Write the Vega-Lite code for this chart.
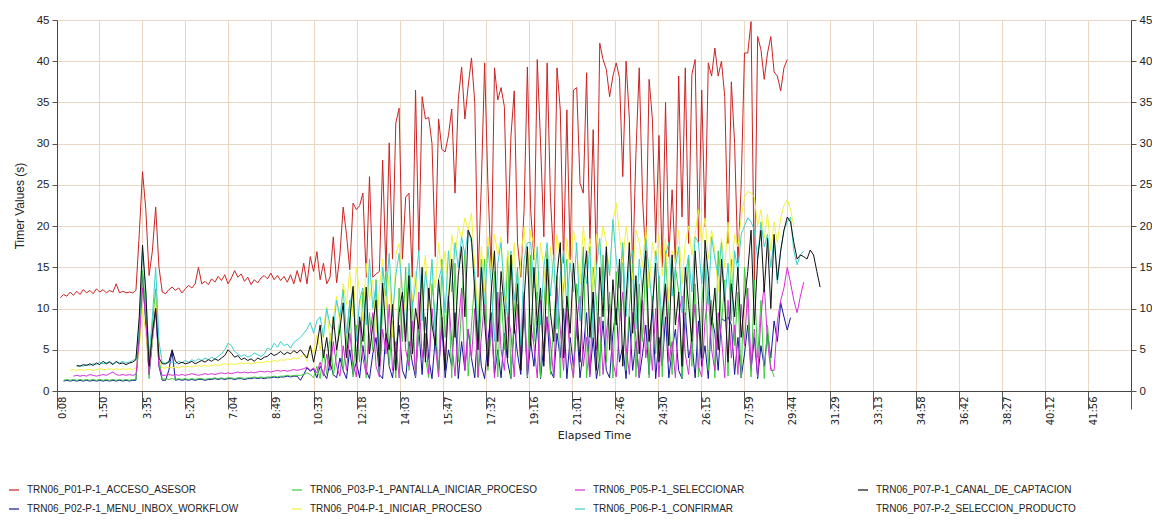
{
"$schema":"https://vega.github.io/schema/vega-lite/v6.json",
"width":1074,"height":371,
"autosize":{"type":"none"},
"padding":{"left":57,"top":20,"right":21,"bottom":134},
"background":"#ffffff",
"config":{"view":{"stroke":null}},
"datasets":{
"names":[
{"k":"a","name":"TRN06_P01-P-1_ACCESO_ASESOR"},
{"k":"b","name":"TRN06_P02-P-1_MENU_INBOX_WORKFLOW"},
{"k":"c","name":"TRN06_P03-P-1_PANTALLA_INICIAR_PROCESO"},
{"k":"d","name":"TRN06_P04-P-1_INICIAR_PROCESO"},
{"k":"e","name":"TRN06_P05-P-1_SELECCIONAR"},
{"k":"f","name":"TRN06_P06-P-1_CONFIRMAR"},
{"k":"g","name":"TRN06_P07-P-1_CANAL_DE_CAPTACION"},
{"k":"h","name":"TRN06_P07-P-2_SELECCION_PRODUCTO"}
],
"timers":[
{"t":16,"a":11.3},
{"t":24,"a":11.7,"b":1.2,"c":1.3},
{"t":32,"a":11.5,"b":1.3,"c":1.4},
{"t":40,"a":12.0,"b":1.2,"c":1.3,"d":2.5},
{"t":48,"a":11.6,"b":1.3,"c":1.4,"d":2.6,"e":1.8},
{"t":56,"a":12.1,"b":1.2,"c":1.3,"d":2.5,"e":1.9,"f":3.0,"g":3.1},
{"t":64,"a":11.7,"b":1.3,"c":1.4,"d":2.6,"e":1.8,"f":3.1,"g":3.0},
{"t":72,"a":12.3,"b":1.2,"c":1.3,"d":2.5,"e":1.9,"f":3.0,"g":3.2},
{"t":80,"a":11.9,"b":1.3,"c":1.4,"d":2.6,"e":1.8,"f":3.2,"g":3.1},
{"t":88,"a":12.2,"b":1.2,"c":1.3,"d":2.6,"e":2.0,"f":3.1,"g":3.3},
{"t":96,"a":11.8,"b":1.3,"c":1.4,"d":2.5,"e":1.9,"f":3.3,"g":3.1},
{"t":104,"a":12.4,"b":1.2,"c":1.3,"d":2.6,"e":1.8,"f":3.2,"g":3.4},
{"t":112,"a":12.0,"b":1.3,"c":1.4,"d":2.7,"e":1.9,"f":3.5,"g":3.2},
{"t":120,"a":12.3,"b":1.2,"c":1.3,"d":2.6,"e":2.0,"f":3.3,"g":3.6},
{"t":128,"a":11.9,"b":1.3,"c":1.4,"d":2.6,"e":1.9,"f":3.4,"g":3.3},
{"t":136,"a":12.2,"b":1.2,"c":1.3,"d":2.7,"e":2.1,"f":3.6,"g":3.5},
{"t":144,"a":12.0,"b":1.3,"c":1.4,"d":2.6,"e":2.3,"f":3.3,"g":3.2},
{"t":152,"a":13.0,"b":1.2,"c":1.3,"d":2.7,"e":2.0,"f":3.5,"g":3.6},
{"t":160,"a":11.9,"b":1.3,"c":1.4,"d":2.6,"e":1.9,"f":3.4,"g":3.3},
{"t":168,"a":12.1,"b":1.2,"c":1.3,"d":2.7,"e":2.0,"f":3.6,"g":3.4},
{"t":176,"a":11.9,"b":1.3,"c":1.4,"d":2.6,"e":1.9,"f":3.4,"g":3.2},
{"t":184,"a":12.0,"b":1.2,"c":1.3,"d":2.7,"e":2.0,"f":3.5,"g":3.4},
{"t":192,"a":11.9,"b":1.3,"c":1.4,"d":2.6,"e":1.9,"f":3.7,"g":3.5},
{"t":200,"a":12.2,"b":1.3,"c":1.4,"d":2.8,"e":2.0,"f":3.9,"g":3.8},
{"t":208,"a":19.0,"b":7.0,"c":6.0,"d":5.0,"e":6.0,"f":8.0,"g":9.0},
{"t":216,"a":26.6,"b":14.4,"c":14.6,"d":10.0,"e":12.5,"f":17.0,"g":17.7},
{"t":224,"a":22.0,"b":8.0,"c":10.0,"d":7.0,"e":9.0,"f":12.0,"g":12.0},
{"t":232,"a":14.0,"b":2.0,"c":1.5,"d":3.0,"e":2.0,"f":4.0,"g":3.0},
{"t":240,"a":17.0,"b":6.0,"c":8.0,"d":6.0,"e":7.0,"f":9.0,"g":7.0},
{"t":248,"a":22.3,"b":10.0,"c":12.4,"d":11.0,"e":10.0,"f":15.0,"g":10.0},
{"t":256,"a":15.0,"b":3.0,"c":4.0,"d":4.0,"e":3.0,"f":6.0,"g":4.0},
{"t":264,"a":12.0,"b":1.3,"c":1.4,"d":2.8,"e":1.9,"f":3.4,"g":3.3},
{"t":272,"a":11.8,"b":1.3,"c":1.5,"d":2.8,"e":1.9,"f":3.4,"g":3.3},
{"t":280,"a":12.3,"b":2.5,"c":1.4,"d":2.9,"e":2.0,"f":3.6,"g":3.5},
{"t":288,"a":12.6,"b":4.8,"c":1.5,"d":2.8,"e":1.9,"f":3.5,"g":5.0},
{"t":296,"a":12.2,"b":1.3,"c":1.4,"d":2.9,"e":2.0,"f":3.3,"g":3.6},
{"t":304,"a":12.5,"b":1.4,"c":1.5,"d":2.8,"e":1.9,"f":3.6,"g":3.3},
{"t":312,"a":11.9,"b":1.3,"c":1.4,"d":3.0,"e":2.0,"f":3.4,"g":3.5},
{"t":320,"a":12.4,"b":1.4,"c":1.5,"d":2.9,"e":1.9,"f":3.7,"g":3.3},
{"t":328,"a":12.8,"b":1.3,"c":1.4,"d":3.0,"e":2.0,"f":3.5,"g":3.4},
{"t":336,"a":12.5,"b":1.4,"c":1.5,"d":2.9,"e":2.1,"f":3.8,"g":3.6},
{"t":344,"a":13.0,"b":1.3,"c":1.4,"d":3.0,"e":2.0,"f":3.6,"g":3.3},
{"t":352,"a":15.0,"b":1.4,"c":1.5,"d":3.1,"e":1.9,"f":3.9,"g":3.5},
{"t":360,"a":13.0,"b":1.4,"c":1.5,"d":3.0,"e":2.0,"f":3.7,"g":3.7},
{"t":368,"a":13.3,"b":1.3,"c":1.4,"d":3.1,"e":2.1,"f":4.0,"g":3.5},
{"t":376,"a":12.9,"b":1.4,"c":1.5,"d":3.0,"e":2.0,"f":3.8,"g":3.8},
{"t":384,"a":13.6,"b":1.4,"c":1.5,"d":3.1,"e":2.1,"f":4.1,"g":3.6},
{"t":392,"a":13.2,"b":1.5,"c":1.6,"d":3.2,"e":2.0,"f":3.9,"g":3.9},
{"t":400,"a":13.9,"b":1.4,"c":1.5,"d":3.1,"e":2.1,"f":4.2,"g":3.7},
{"t":408,"a":13.4,"b":1.5,"c":1.6,"d":3.2,"e":2.2,"f":4.5,"g":4.0},
{"t":416,"a":14.1,"b":1.4,"c":1.5,"d":3.3,"e":2.1,"f":5.0,"g":4.3},
{"t":424,"a":13.0,"b":1.5,"c":1.6,"d":3.2,"e":2.2,"f":5.8,"g":5.0},
{"t":432,"a":13.7,"b":1.5,"c":1.6,"d":3.3,"e":2.1,"f":5.5,"g":4.6},
{"t":440,"a":14.6,"b":1.4,"c":1.5,"d":3.2,"e":2.2,"f":4.8,"g":4.1},
{"t":448,"a":13.8,"b":1.5,"c":1.6,"d":3.3,"e":2.3,"f":4.5,"g":4.3},
{"t":456,"a":14.2,"b":1.5,"c":1.6,"d":3.4,"e":2.2,"f":4.2,"g":3.8},
{"t":464,"a":13.3,"b":1.4,"c":1.5,"d":3.3,"e":2.3,"f":4.4,"g":4.0},
{"t":472,"a":13.8,"b":1.5,"c":1.6,"d":3.4,"e":2.2,"f":4.1,"g":3.7},
{"t":480,"a":12.9,"b":1.5,"c":1.6,"d":3.3,"e":2.3,"f":4.3,"g":3.9},
{"t":488,"a":13.5,"b":1.6,"c":1.7,"d":3.4,"e":2.2,"f":4.6,"g":3.6},
{"t":496,"a":13.1,"b":1.5,"c":1.6,"d":3.5,"e":2.3,"f":4.4,"g":4.0},
{"t":504,"a":13.7,"b":1.6,"c":1.7,"d":3.4,"e":2.4,"f":4.2,"g":3.8},
{"t":512,"a":14.0,"b":1.5,"c":1.6,"d":3.5,"e":2.3,"f":4.5,"g":4.1},
{"t":520,"a":13.6,"b":1.6,"c":1.7,"d":3.6,"e":2.4,"f":5.2,"g":4.2},
{"t":528,"a":14.3,"b":1.6,"c":1.7,"d":3.5,"e":2.3,"f":5.0,"g":4.6},
{"t":536,"a":13.5,"b":1.7,"c":1.8,"d":3.7,"e":2.4,"f":5.8,"g":4.3},
{"t":544,"a":14.0,"b":1.6,"c":1.7,"d":3.6,"e":2.5,"f":5.3,"g":4.5},
{"t":552,"a":13.4,"b":1.7,"c":1.8,"d":3.8,"e":2.4,"f":6.0,"g":4.8},
{"t":560,"a":13.9,"b":1.7,"c":1.8,"d":3.7,"e":2.5,"f":5.5,"g":4.4},
{"t":568,"a":13.2,"b":1.8,"c":1.9,"d":3.9,"e":2.4,"f":5.7,"g":4.7},
{"t":576,"a":14.1,"b":1.7,"c":1.8,"d":3.8,"e":2.5,"f":5.2,"g":4.5},
{"t":584,"a":13.0,"b":1.8,"c":1.9,"d":4.0,"e":2.6,"f":5.9,"g":4.9},
{"t":592,"a":14.6,"b":1.8,"c":1.9,"d":3.9,"e":2.5,"f":6.2,"g":4.6},
{"t":600,"a":13.2,"b":1.3,"c":1.9,"d":4.1,"e":2.6,"f":6.5,"g":5.0},
{"t":608,"a":15.5,"b":2.0,"c":2.0,"d":4.5,"e":2.7,"f":7.0,"g":4.5},
{"t":616,"a":13.0,"b":2.8,"c":2.2,"d":3.6,"e":2.9,"f":7.5,"g":4.0},
{"t":624,"a":16.3,"b":2.4,"c":2.0,"d":5.5,"e":2.5,"f":8.3,"g":5.5},
{"t":632,"a":14.5,"b":2.7,"c":1.6,"d":4.5,"e":2.8,"f":7.0,"g":3.5},
{"t":640,"a":16.9,"b":1.6,"c":3.0,"d":6.8,"e":2.2,"f":8.5,"g":5.5},
{"t":648,"a":13.5,"b":3.0,"c":1.5,"d":5.0,"e":3.5,"f":9.0,"g":8.0},
{"t":656,"a":15.5,"b":2.2,"c":5.0,"d":7.5,"e":1.8,"f":6.5,"g":4.0},
{"t":664,"a":13.0,"b":1.5,"c":2.0,"d":10.2,"e":4.5,"f":10.0,"g":6.5},
{"t":672,"a":13.8,"b":3.5,"c":7.0,"d":6.0,"e":2.5,"f":8.0,"g":3.0},
{"t":680,"a":18.7,"b":2.0,"c":1.8,"d":9.0,"e":6.0,"f":7.5,"g":9.0},
{"t":688,"a":13.1,"b":1.6,"c":4.5,"d":11.5,"e":3.0,"f":11.0,"g":5.0},
{"t":696,"a":16.5,"b":4.0,"c":9.0,"d":8.0,"e":1.8,"f":9.0,"g":7.5},
{"t":704,"a":22.3,"b":2.5,"c":2.5,"d":13.0,"e":5.5,"f":12.3,"g":10.7},
{"t":712,"a":19.0,"b":1.5,"c":6.0,"d":10.5,"e":2.5,"f":7.0,"g":4.0},
{"t":720,"a":14.7,"b":5.0,"c":11.0,"d":14.5,"e":7.0,"f":10.5,"g":8.5},
{"t":728,"a":22.8,"b":2.0,"c":1.7,"d":9.0,"e":3.5,"f":12.3,"g":12.7},
{"t":736,"a":22.0,"b":3.5,"c":8.0,"d":15.0,"e":1.7,"f":6.0,"g":3.5},
{"t":744,"a":22.5,"b":1.6,"c":3.5,"d":12.0,"e":8.5,"f":11.0,"g":9.0},
{"t":752,"a":24.0,"b":5.5,"c":12.0,"d":8.5,"e":4.0,"f":12.5,"g":6.0},
{"t":760,"a":13.8,"b":2.5,"c":1.6,"d":15.5,"e":2.0,"f":8.0,"g":12.6},
{"t":768,"a":26.0,"b":1.5,"c":9.5,"d":11.0,"e":6.5,"f":16.0,"g":4.5},
{"t":776,"a":13.8,"b":4.5,"c":5.0,"d":13.5,"e":9.5,"f":10.0,"g":8.0},
{"t":784,"a":14.2,"b":6.5,"c":13.5,"d":7.0,"e":3.0,"f":13.0,"g":11.0},
{"t":792,"a":14.5,"b":2.0,"c":2.0,"d":12.5,"e":1.7,"f":5.0,"g":3.0},
{"t":800,"a":28.0,"b":1.5,"c":10.0,"d":16.0,"e":7.5,"f":15.0,"g":13.1},
{"t":808,"a":14.5,"b":7.0,"c":14.5,"d":10.0,"e":4.5,"f":11.5,"g":7.0},
{"t":816,"a":30.1,"b":3.0,"c":3.0,"d":14.0,"e":10.5,"f":16.7,"g":5.0},
{"t":824,"a":16.0,"b":1.6,"c":8.5,"d":6.5,"e":2.5,"f":9.0,"g":10.5},
{"t":832,"a":32.5,"b":5.0,"c":1.6,"d":16.5,"e":6.0,"f":14.0,"g":2.5},
{"t":840,"a":34.3,"b":8.0,"c":12.5,"d":17.9,"e":1.6,"f":16.7,"g":9.5},
{"t":848,"a":16.0,"b":2.5,"c":6.0,"d":12.0,"e":11.0,"f":12.0,"g":12.0},
{"t":856,"a":23.5,"b":1.5,"c":15.0,"d":9.0,"e":5.0,"f":7.0,"g":6.0},
{"t":864,"a":24.0,"b":6.0,"c":2.5,"d":15.0,"e":3.0,"f":15.5,"g":14.0},
{"t":872,"a":13.8,"b":3.5,"c":11.0,"d":11.0,"e":8.5,"f":10.0,"g":4.5},
{"t":880,"a":36.5,"b":1.6,"c":1.8,"d":14.5,"e":1.7,"f":13.0,"g":10.0},
{"t":888,"a":17.0,"b":7.5,"c":7.5,"d":7.5,"e":12.0,"f":17.0,"g":7.5},
{"t":896,"a":35.7,"b":2.0,"c":14.0,"d":13.0,"e":4.0,"f":8.5,"g":15.0},
{"t":904,"a":33.0,"b":9.0,"c":4.0,"d":16.5,"e":7.0,"f":14.5,"g":3.5},
{"t":912,"a":33.2,"b":4.0,"c":1.6,"d":10.0,"e":2.0,"f":11.0,"g":12.5},
{"t":920,"a":30.0,"b":1.5,"c":13.0,"d":15.5,"e":10.0,"f":16.0,"g":8.0},
{"t":928,"a":16.3,"b":6.5,"c":9.0,"d":12.5,"e":5.5,"f":6.5,"g":5.5},
{"t":936,"a":33.0,"b":2.5,"c":1.7,"d":18.0,"e":1.7,"f":13.5,"g":13.5},
{"t":944,"a":29.3,"b":8.0,"c":16.0,"d":14.0,"e":9.0,"f":15.0,"g":9.0},
{"t":952,"a":29.0,"b":1.6,"c":6.5,"d":17.0,"e":3.5,"f":9.5,"g":2.5},
{"t":960,"a":31.0,"b":5.0,"c":12.0,"d":11.5,"e":11.5,"f":17.0,"g":11.0},
{"t":968,"a":34.2,"b":3.0,"c":1.6,"d":19.0,"e":6.0,"f":12.0,"g":16.0},
{"t":976,"a":24.0,"b":9.5,"c":15.5,"d":16.0,"e":1.8,"f":18.0,"g":6.5},
{"t":984,"a":35.4,"b":1.5,"c":3.5,"d":20.0,"e":8.0,"f":15.0,"g":14.0},
{"t":992,"a":39.3,"b":6.0,"c":10.0,"d":18.5,"e":12.5,"f":18.7,"g":17.5},
{"t":1000,"a":33.0,"b":2.5,"c":17.0,"d":21.0,"e":2.5,"f":16.5,"g":9.0},
{"t":1008,"a":37.0,"b":7.5,"c":1.8,"d":19.5,"e":7.5,"f":19.5,"g":19.5},
{"t":1016,"a":40.4,"b":4.0,"c":8.0,"d":21.6,"e":4.0,"f":18.0,"g":18.5},
{"t":1024,"a":35.0,"b":1.6,"c":13.5,"d":15.0,"e":10.0,"f":14.0,"g":12.0},
{"t":1032,"a":13.8,"b":8.5,"c":1.6,"d":9.0,"e":1.7,"f":7.0,"g":5.0},
{"t":1040,"a":25.0,"b":3.0,"c":11.0,"d":17.5,"e":6.5,"f":16.0,"g":15.0},
{"t":1048,"a":39.8,"b":1.5,"c":16.0,"d":12.0,"e":11.0,"f":10.5,"g":8.5},
{"t":1056,"a":25.0,"b":6.0,"c":2.5,"d":18.7,"e":3.0,"f":17.5,"g":3.0},
{"t":1064,"a":14.5,"b":9.5,"c":7.0,"d":14.0,"e":8.5,"f":13.0,"g":12.0},
{"t":1072,"a":39.2,"b":2.0,"c":14.5,"d":19.0,"e":1.6,"f":6.0,"g":17.0},
{"t":1080,"a":35.3,"b":5.0,"c":1.7,"d":16.5,"e":12.0,"f":15.5,"g":6.0},
{"t":1088,"a":36.8,"b":1.6,"c":12.0,"d":18.7,"e":5.0,"f":18.0,"g":14.5},
{"t":1096,"a":34.5,"b":7.0,"c":5.0,"d":11.0,"e":2.5,"f":12.0,"g":10.0},
{"t":1104,"a":17.9,"b":3.5,"c":17.0,"d":17.0,"e":9.5,"f":9.0,"g":4.0},
{"t":1112,"a":30.9,"b":1.5,"c":1.6,"d":13.5,"e":7.0,"f":17.0,"g":16.5},
{"t":1120,"a":36.4,"b":8.0,"c":9.5,"d":18.0,"e":1.7,"f":11.0,"g":7.0},
{"t":1128,"a":18.0,"b":4.5,"c":15.0,"d":8.5,"e":10.5,"f":14.5,"g":13.0},
{"t":1136,"a":13.8,"b":2.0,"c":3.0,"d":16.0,"e":4.5,"f":5.5,"g":2.5},
{"t":1144,"a":22.0,"b":10.0,"c":11.5,"d":19.9,"e":12.0,"f":16.0,"g":11.0},
{"t":1152,"a":39.3,"b":1.6,"c":1.7,"d":14.0,"e":2.0,"f":18.0,"g":17.5},
{"t":1160,"a":22.0,"b":6.0,"c":16.5,"d":19.5,"e":8.0,"f":18.0,"g":5.5},
{"t":1168,"a":15.9,"b":3.0,"c":6.0,"d":17.5,"e":5.5,"f":12.5,"g":15.0},
{"t":1176,"a":40.2,"b":8.5,"c":13.0,"d":12.0,"e":1.6,"f":17.5,"g":8.0},
{"t":1184,"a":30.1,"b":1.5,"c":1.6,"d":18.0,"e":11.0,"f":8.0,"g":12.5},
{"t":1192,"a":18.7,"b":5.5,"c":10.0,"d":15.0,"e":3.5,"f":15.0,"g":3.0},
{"t":1200,"a":39.8,"b":9.0,"c":17.0,"d":10.5,"e":9.0,"f":18.0,"g":16.0},
{"t":1208,"a":23.5,"b":2.5,"c":2.0,"d":17.5,"e":6.0,"f":11.5,"g":9.5},
{"t":1216,"a":15.9,"b":1.6,"c":8.0,"d":13.0,"e":1.7,"f":16.5,"g":6.0},
{"t":1224,"a":39.2,"b":7.0,"c":14.0,"d":19.0,"e":12.5,"f":7.5,"g":14.0},
{"t":1232,"a":34.1,"b":4.0,"c":1.6,"d":16.0,"e":7.5,"f":14.0,"g":18.0},
{"t":1240,"a":15.5,"b":10.0,"c":12.5,"d":11.0,"e":2.5,"f":17.0,"g":4.0},
{"t":1248,"a":34.1,"b":1.5,"c":16.0,"d":18.5,"e":10.0,"f":10.0,"g":11.5},
{"t":1256,"a":15.9,"b":6.5,"c":4.0,"d":14.5,"e":4.0,"f":15.5,"g":7.0},
{"t":1264,"a":36.5,"b":3.0,"c":1.7,"d":19.5,"e":1.6,"f":12.0,"g":15.5},
{"t":1272,"a":36.8,"b":8.0,"c":13.0,"d":17.0,"e":8.5,"f":18.0,"g":10.0},
{"t":1280,"a":25.2,"b":1.6,"c":9.0,"d":13.0,"e":11.5,"f":8.5,"g":3.5},
{"t":1288,"a":24.0,"b":5.0,"c":17.5,"d":20.0,"e":3.0,"f":16.0,"g":13.0},
{"t":1296,"a":38.6,"b":9.5,"c":1.6,"d":15.5,"e":6.5,"f":13.0,"g":17.0},
{"t":1304,"a":17.9,"b":2.0,"c":6.5,"d":18.5,"e":1.7,"f":17.5,"g":6.5},
{"t":1312,"a":31.7,"b":6.5,"c":15.0,"d":12.0,"e":12.0,"f":6.5,"g":12.0},
{"t":1320,"a":14.7,"b":1.5,"c":11.0,"d":19.0,"e":5.0,"f":15.0,"g":2.5},
{"t":1328,"a":42.2,"b":4.0,"c":1.8,"d":16.5,"e":9.0,"f":18.5,"g":15.0},
{"t":1336,"a":40.2,"b":8.5,"c":16.5,"d":20.0,"e":2.0,"f":11.0,"g":9.0},
{"t":1344,"a":39.0,"b":2.5,"c":3.5,"d":18.0,"e":7.0,"f":17.0,"g":17.5},
{"t":1352,"a":35.7,"b":1.6,"c":12.0,"d":14.0,"e":10.5,"f":14.0,"g":5.0},
{"t":1360,"a":38.2,"b":7.0,"c":1.6,"d":20.5,"e":3.5,"f":20.8,"g":13.5},
{"t":1368,"a":39.8,"b":10.0,"c":14.5,"d":22.8,"e":1.7,"f":16.0,"g":8.0},
{"t":1376,"a":38.0,"b":3.5,"c":8.5,"d":19.0,"e":8.0,"f":12.5,"g":16.0},
{"t":1384,"a":26.0,"b":5.5,"c":17.0,"d":15.5,"e":12.0,"f":18.0,"g":3.0},
{"t":1392,"a":40.0,"b":1.5,"c":2.5,"d":20.0,"e":5.5,"f":9.0,"g":11.0},
{"t":1400,"a":33.0,"b":9.0,"c":10.0,"d":17.0,"e":2.0,"f":15.5,"g":18.0},
{"t":1408,"a":14.3,"b":2.5,"c":15.5,"d":13.5,"e":9.5,"f":17.0,"g":7.0},
{"t":1416,"a":28.9,"b":6.0,"c":1.7,"d":19.5,"e":6.5,"f":7.5,"g":14.0},
{"t":1424,"a":39.2,"b":1.6,"c":13.0,"d":18.0,"e":1.6,"f":16.0,"g":4.5},
{"t":1432,"a":23.5,"b":4.5,"c":6.0,"d":15.0,"e":11.0,"f":12.0,"g":12.5},
{"t":1440,"a":15.9,"b":8.0,"c":16.0,"d":20.0,"e":4.0,"f":18.5,"g":17.0},
{"t":1448,"a":37.8,"b":2.0,"c":1.6,"d":12.5,"e":7.5,"f":14.5,"g":6.0},
{"t":1456,"a":33.0,"b":10.5,"c":11.5,"d":18.0,"e":2.5,"f":10.0,"g":10.0},
{"t":1464,"a":18.0,"b":1.5,"c":4.5,"d":16.0,"e":10.0,"f":17.0,"g":15.5},
{"t":1472,"a":31.0,"b":6.5,"c":14.0,"d":19.0,"e":1.7,"f":13.5,"g":3.5},
{"t":1480,"a":15.0,"b":3.0,"c":1.7,"d":14.0,"e":8.5,"f":8.0,"g":9.0},
{"t":1488,"a":35.0,"b":9.0,"c":17.0,"d":18.5,"e":12.5,"f":16.5,"g":13.0},
{"t":1496,"a":16.3,"b":1.6,"c":9.0,"d":11.0,"e":3.5,"f":18.0,"g":5.5},
{"t":1504,"a":24.4,"b":5.0,"c":2.0,"d":17.0,"e":6.0,"f":11.5,"g":16.5},
{"t":1512,"a":15.5,"b":7.5,"c":15.0,"d":15.5,"e":1.6,"f":15.0,"g":8.0},
{"t":1520,"a":38.2,"b":2.5,"c":12.0,"d":19.5,"e":9.0,"f":17.5,"g":12.0},
{"t":1528,"a":21.1,"b":1.5,"c":1.6,"d":13.0,"e":11.5,"f":9.5,"g":3.0},
{"t":1536,"a":39.2,"b":9.5,"c":7.5,"d":18.0,"e":4.5,"f":14.0,"g":15.0},
{"t":1544,"a":17.9,"b":4.0,"c":16.5,"d":20.0,"e":2.0,"f":16.5,"g":10.5},
{"t":1552,"a":38.4,"b":6.0,"c":3.0,"d":16.5,"e":7.0,"f":12.0,"g":6.0},
{"t":1560,"a":40.2,"b":1.6,"c":13.0,"d":19.0,"e":10.5,"f":18.7,"g":17.0},
{"t":1568,"a":18.0,"b":8.5,"c":1.7,"d":22.0,"e":3.0,"f":18.0,"g":11.0},
{"t":1576,"a":36.5,"b":3.0,"c":10.5,"d":18.0,"e":1.7,"f":13.0,"g":4.0},
{"t":1584,"a":19.9,"b":5.5,"c":15.5,"d":21.0,"e":8.5,"f":17.0,"g":18.3},
{"t":1592,"a":39.8,"b":1.5,"c":2.5,"d":16.0,"e":12.0,"f":10.5,"g":14.0},
{"t":1600,"a":38.2,"b":9.0,"c":11.0,"d":19.5,"e":5.0,"f":18.7,"g":8.0},
{"t":1608,"a":41.6,"b":7.0,"c":1.6,"d":17.0,"e":2.5,"f":16.0,"g":12.5},
{"t":1616,"a":38.2,"b":2.5,"c":17.0,"d":12.0,"e":9.5,"f":14.0,"g":5.0},
{"t":1624,"a":40.0,"b":8.8,"c":8.0,"d":18.5,"e":6.5,"f":18.0,"g":16.0},
{"t":1632,"a":35.7,"b":8.5,"c":13.5,"d":15.0,"e":1.6,"f":11.0,"g":10.7},
{"t":1640,"a":17.9,"b":9.0,"c":1.8,"d":20.5,"e":11.0,"f":15.5,"g":3.5},
{"t":1648,"a":37.5,"b":8.0,"c":16.0,"d":13.5,"e":4.0,"f":8.5,"g":13.0},
{"t":1656,"a":30.0,"b":2.0,"c":5.5,"d":19.0,"e":8.0,"f":17.0,"g":9.0},
{"t":1664,"a":15.5,"b":6.5,"c":12.0,"d":17.5,"e":2.0,"f":14.5,"g":15.0},
{"t":1672,"a":25.0,"b":1.6,"c":1.6,"d":21.0,"e":10.5,"f":19.0,"g":6.5},
{"t":1680,"a":41.0,"b":4.5,"c":15.0,"d":23.5,"e":5.5,"f":20.0,"g":11.0},
{"t":1688,"a":41.0,"b":8.0,"c":10.0,"d":24.2,"e":12.5,"f":21.0,"g":14.5},
{"t":1696,"a":44.8,"b":2.5,"c":1.7,"d":24.0,"e":3.0,"f":20.5,"g":19.5},
{"t":1704,"a":13.0,"b":6.5,"c":13.5,"d":23.5,"e":7.5,"f":19.5,"g":8.0},
{"t":1712,"a":43.0,"b":1.5,"c":4.0,"d":20.0,"e":1.7,"f":16.0,"g":16.0},
{"t":1720,"a":41.4,"b":5.5,"c":11.0,"d":22.0,"e":9.0,"f":20.5,"g":19.5},
{"t":1728,"a":37.8,"b":3.0,"c":1.5,"d":18.5,"e":13.0,"f":17.5,"g":12.0},
{"t":1736,"a":41.0,"b":7.0,"c":8.0,"d":21.5,"e":6.0,"f":19.0,"g":18.5},
{"t":1744,"a":43.0,"b":4.0,"c":3.0,"d":17.0,"e":2.5,"f":15.0,"g":10.0},
{"t":1752,"a":38.7,"b":8.5,"c":1.7,"d":20.5,"e":2.5,"f":18.5,"g":19.0},
{"t":1760,"a":38.2,"b":6.0,"d":18.0,"e":8.5,"f":13.0,"g":13.5},
{"t":1768,"a":36.4,"b":10.7,"d":21.0,"e":11.0,"f":17.0,"g":17.0},
{"t":1776,"a":39.2,"b":9.0,"d":22.5,"e":12.5,"f":19.5,"g":19.5},
{"t":1784,"a":40.2,"b":7.4,"d":23.2,"e":15.0,"f":20.5,"g":21.1},
{"t":1792,"b":8.9,"d":22.0,"e":13.1,"f":21.1,"g":20.5},
{"t":1800,"d":20.0,"e":11.0,"f":17.0,"g":18.0},
{"t":1808,"e":9.5,"f":15.3,"g":16.0},
{"t":1816,"e":11.5,"f":16.5,"g":16.5},
{"t":1824,"e":13.2,"f":17.0,"g":16.3},
{"t":1832,"g":16.0},
{"t":1840,"g":17.1},
{"t":1848,"g":16.5},
{"t":1856,"g":14.5},
{"t":1864,"g":12.6}
]
},
"layer":[
{
"data":{"name":"timers"},
"transform":[
{"fold":["a","b","c","d","e","f","g"],"as":["k","v"]},
{"filter":"isValid(datum.v)"},
{"lookup":"k","from":{"data":{"name":"names"},"key":"k","fields":["name"]}}
],
"mark":{"type":"line","strokeWidth":1},
"encoding":{
"x":{"field":"t","type":"quantitative","scale":{"domain":[8,2620],"nice":false,"zero":false},
"axis":{"title":"Elapsed Time","values":[8,110,215,320,424,529,633,738,843,947,1052,1156,1261,1366,1470,1575,1679,1784,1889,1993,2098,2202,2307,2412,2516,2620],
"labelExpr":"datum.value > 2600 ? '' : floor(datum.value / 60) + ':' + (datum.value % 60 < 10 ? '0' : '') + (datum.value % 60)",
"labelAngle":270,"labelAlign":"right","labelBaseline":"top","labelPadding":-13,"labelOverlap":false,"labelFlush":false,
"labelFont":"DejaVu Sans","labelFontSize":10,"labelColor":"#222222",
"tickSize":18,"tickColor":"#555555","domainColor":"#444444","grid":true,"gridColor":"#ead7c3",
"titleFont":"DejaVu Sans","titleFontSize":11,"titleFontWeight":"normal","titleColor":"#222222","titlePadding":5}},
"y":{"field":"v","type":"quantitative","scale":{"domain":[0,45],"nice":false},
"axis":{"title":"Timer Values (s)","values":[0,5,10,15,20,25,30,35,40,45],"grid":true,"gridColor":"#ead7c3",
"tickSize":5,"tickColor":"#555555","domainColor":"#444444","labelFont":"Liberation Sans","labelFontSize":11.5,"labelColor":"#222222","labelPadding":3,
"titleFont":"Liberation Sans","titleFontSize":12,"titleFontWeight":"normal","titleColor":"#222222","titlePadding":10}},
"color":{"field":"name","type":"nominal",
"scale":{"domain":["TRN06_P01-P-1_ACCESO_ASESOR","TRN06_P03-P-1_PANTALLA_INICIAR_PROCESO","TRN06_P05-P-1_SELECCIONAR","TRN06_P07-P-1_CANAL_DE_CAPTACION","TRN06_P02-P-1_MENU_INBOX_WORKFLOW","TRN06_P04-P-1_INICIAR_PROCESO","TRN06_P06-P-1_CONFIRMAR","TRN06_P07-P-2_SELECCION_PRODUCTO"],
"range":["#cc2222","#3ccc3c","#d42fd4","#111111","#16169a","#f2f23a","#3cd0d0","#ffffff"]},
"legend":{"title":null,"orient":"none","legendX":-49,"legendY":464,"direction":"horizontal","columns":4,"gridAlign":"all","columnPadding":35,"rowPadding":8,
"symbolType":"stroke","symbolSize":100,"symbolStrokeWidth":1.2,"labelFont":"Liberation Sans","labelFontSize":10,"labelColor":"#222222","labelOffset":7,"labelLimit":400,"padding":0}}
}
},
{
"data":{"values":[{"z":0}]},
"mark":{"type":"rule","opacity":0},
"encoding":{
"y":{"field":"z","type":"quantitative","scale":{"domain":[0,45],"nice":false},
"axis":{"orient":"right","title":null,"values":[0,5,10,15,20,25,30,35,40,45],"grid":false,"tickSize":5,"tickColor":"#555555","domainColor":"#444444",
"labelFont":"Liberation Sans","labelFontSize":11.5,"labelColor":"#222222","labelPadding":3}}
}
}
],
"resolve":{"scale":{"y":"independent"}}
}
